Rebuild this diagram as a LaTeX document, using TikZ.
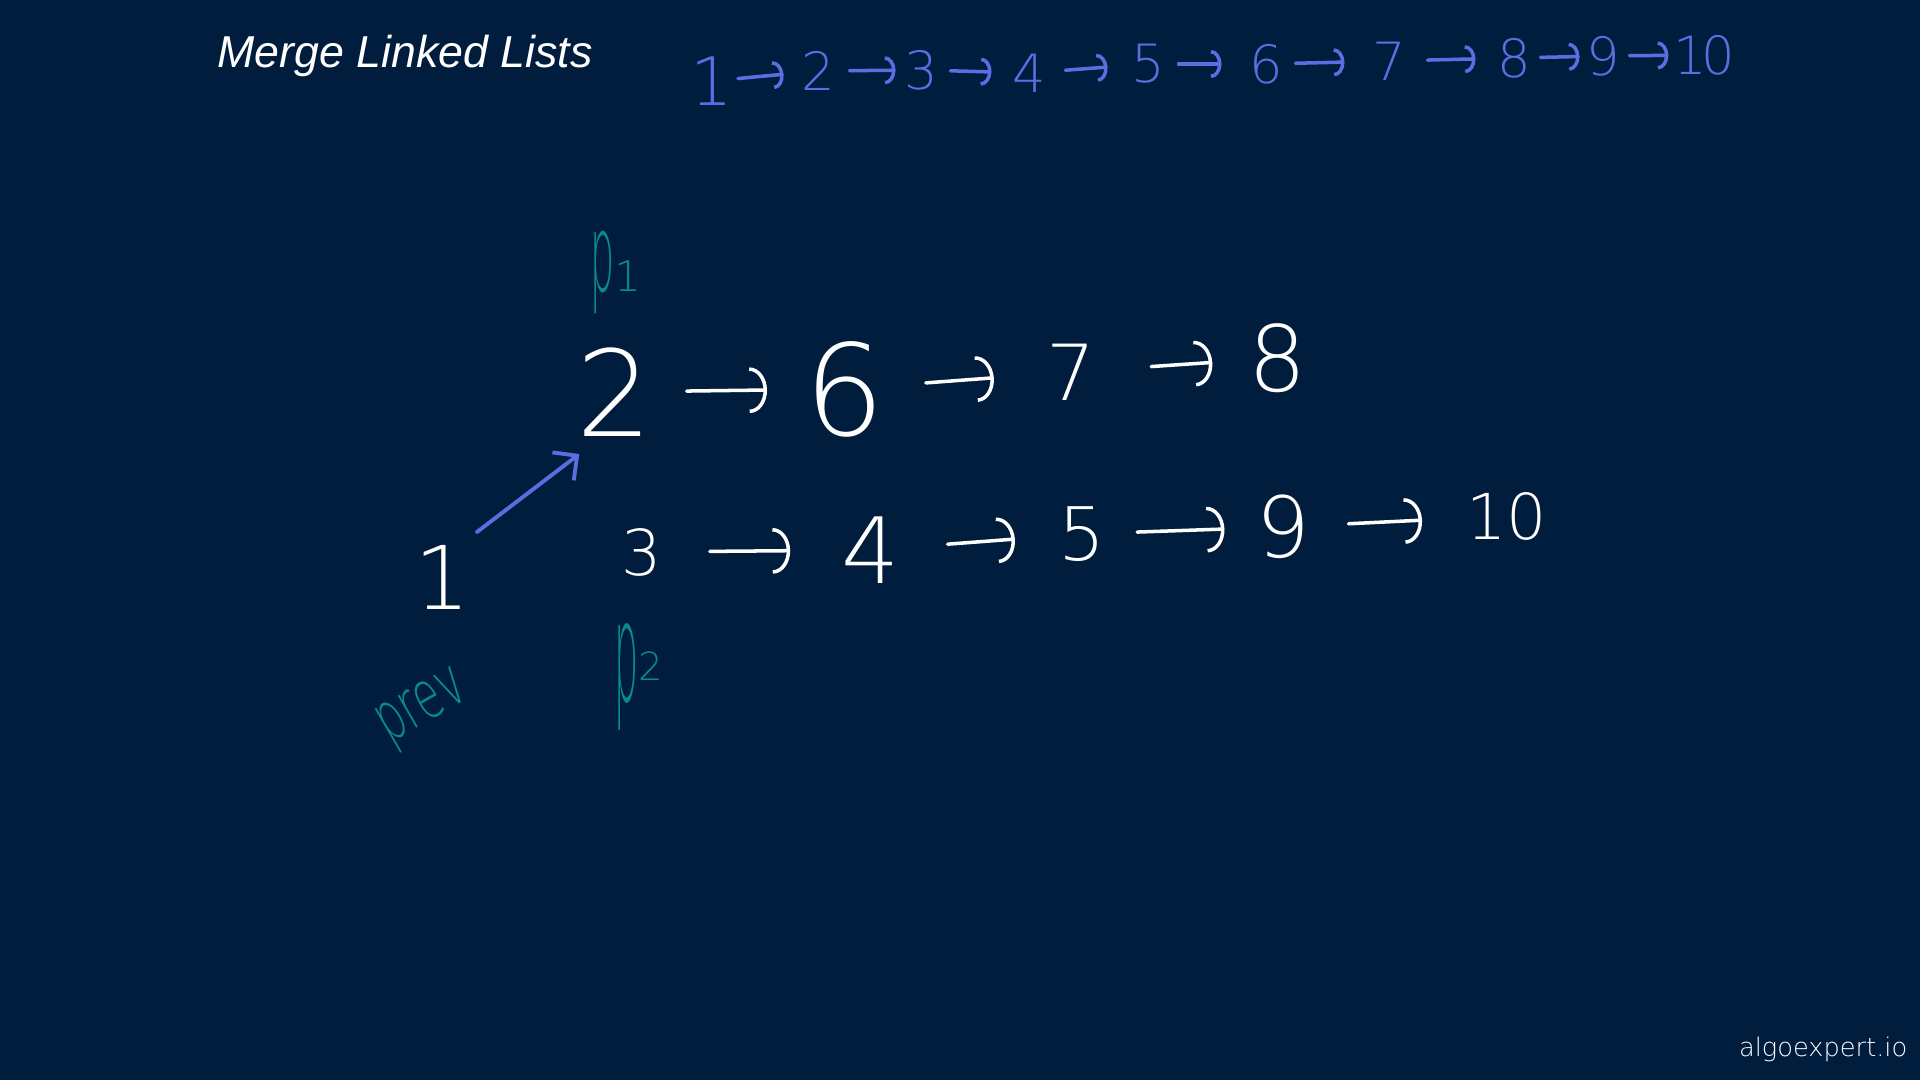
\documentclass[tikz,border=0pt]{standalone}
\usepackage{fontspec}
\setmainfont{Liberation Sans}
\newfontfamily\hand{DejaVuSans-ExtraLight}[Extension=.ttf]
\usetikzlibrary{arrows.meta}
\definecolor{bgnavy}{HTML}{011D3E}
\definecolor{pen}{HTML}{5B6EE1}
\definecolor{tealink}{HTML}{0A8A8A}
\tikzset{
  num/.style={text=white, inner sep=0pt, font=\hand\fontsize{#1}{#1}\selectfont},
  seqnum/.style={text=pen, inner sep=0pt, font=\hand\fontsize{#1}{#1}\selectfont},
  lbl/.style={text=tealink, inner sep=0pt, font=\hand\fontsize{18}{18}\selectfont},
  link/.style={draw=white, line width=1pt, line cap=round, -{Arc Barb[width=13pt,length=5pt]}},
  seqlink/.style={draw=pen, line width=1pt, line cap=round, -{Arc Barb[width=8pt,length=3pt]}},
  ptr/.style={draw=pen, line width=1.1pt, line cap=round, -{Straight Barb[width=10pt,length=5pt]}},
}
\begin{document}
\begin{tikzpicture}[x=0.01cm,y=-0.01cm]
\fill[bgnavy] (0,0) rectangle (1920,1080);
\useasboundingbox (0,0) rectangle (1920,1080);

% title and logo
\node[anchor=base west, text=white, inner sep=0pt, font=\itshape\fontsize{12.7}{12.7}\selectfont] (title) at (217,68) {Merge Linked Lists};
\node[anchor=base east, text=white, inner sep=0pt, font=\hand\fontsize{7.3}{7.3}\selectfont] (logo) at (1908,1057) {algoexpert.io};

% merged result sequence
\node[seqnum=19] (t1) at (712,81) {1};
\node[seqnum=15] (t2) at (818,71) {2};
\node[seqnum=15] (t3) at (921,70) {3};
\node[seqnum=15] (t4) at (1029,73) {4};
\node[seqnum=15] (t5) at (1148,64) {5};
\node[seqnum=15] (t6) at (1266,64) {6};
\node[seqnum=15] (t7) at (1389,61) {7};
\node[seqnum=15] (t8) at (1514,58) {8};
\node[seqnum=15] (t9) at (1603,56) {9};
\node[seqnum=15] (t10) at (1704,55) {1\kern-0.1em0};
\draw[seqlink, shorten <=0.04cm, shorten >=0.17cm] (t1) -- (t2);
\draw[seqlink, shorten <=0.14cm, shorten >=0.08cm] (t2) -- (t3);
\draw[seqlink, shorten <=0.12cm, shorten >=0.20cm] (t3) -- (t4);
\draw[seqlink, shorten <=0.19cm, shorten >=0.23cm] (t4) -- (t5);
\draw[seqlink, shorten <=0.13cm, shorten >=0.27cm] (t5) -- (t6);
\draw[seqlink, shorten <=0.12cm, shorten >=0.27cm] (t6) -- (t7);
\draw[seqlink, shorten <=0.21cm, shorten >=0.21cm] (t7) -- (t8);
\draw[seqlink, shorten <=0.09cm, shorten >=0.06cm] (t8) -- (t9);
\draw[seqlink, shorten <=0.09cm, shorten >=0.04cm] (t9) -- (t10);

% list 1
\node[num=34] (n2) at (615,392) {2};
\node[num=36] (n6) at (845,389) {6};
\node[num=22] (n7) at (1071,372) {7};
\node[num=26] (n8) at (1278,358) {8};
\draw[link, shorten <=0.33cm, shorten >=0.37cm] (n2) -- (n6);
\draw[link, shorten <=0.40cm, shorten >=0.52cm] (n6) -- (n7);
\draw[link, shorten <=0.55cm, shorten >=0.36cm] (n7) -- (n8);

% list 2
\node[num=18] (n3) at (642,552) {3};
\node[num=26] (n4) at (871,550) {4};
\node[num=21] (n5) at (1082,534) {5};
\node[num=24] (n9) at (1283,527) {9};
\node[num=18] (n10) at (1507,516) {10};
\draw[link, shorten <=0.47cm, shorten >=0.51cm] (n3) -- (n4);
\draw[link, shorten <=0.47cm, shorten >=0.43cm] (n4) -- (n5);
\draw[link, shorten <=0.31cm, shorten >=0.31cm] (n5) -- (n9);
\draw[link, shorten <=0.38cm, shorten >=0.44cm] (n9) -- (n10);

% prev node
\node[num=25] (n1) at (442,577) {1};
\draw[ptr] ([shift={(6,-12)}]n1.north east) -- ([shift={(3,17)}]n2.south west);

% pointer labels
\node[lbl, anchor=base west] (p1) at (590,292) {\scalebox{0.6}[1.7]{p}\raisebox{0pt}{\fontsize{12}{12}\selectfont 1}};
\node[lbl, anchor=base west] (p2) at (614,702) {\scalebox{0.6}[2.2]{p}\raisebox{6pt}{\fontsize{11}{11}\selectfont 2}};
\node[lbl, rotate=30, font=\hand\fontsize{12}{12}\selectfont] (prev) at (424,710) {\scalebox{1}[1.6]{prev}};
\end{tikzpicture}
\end{document}
